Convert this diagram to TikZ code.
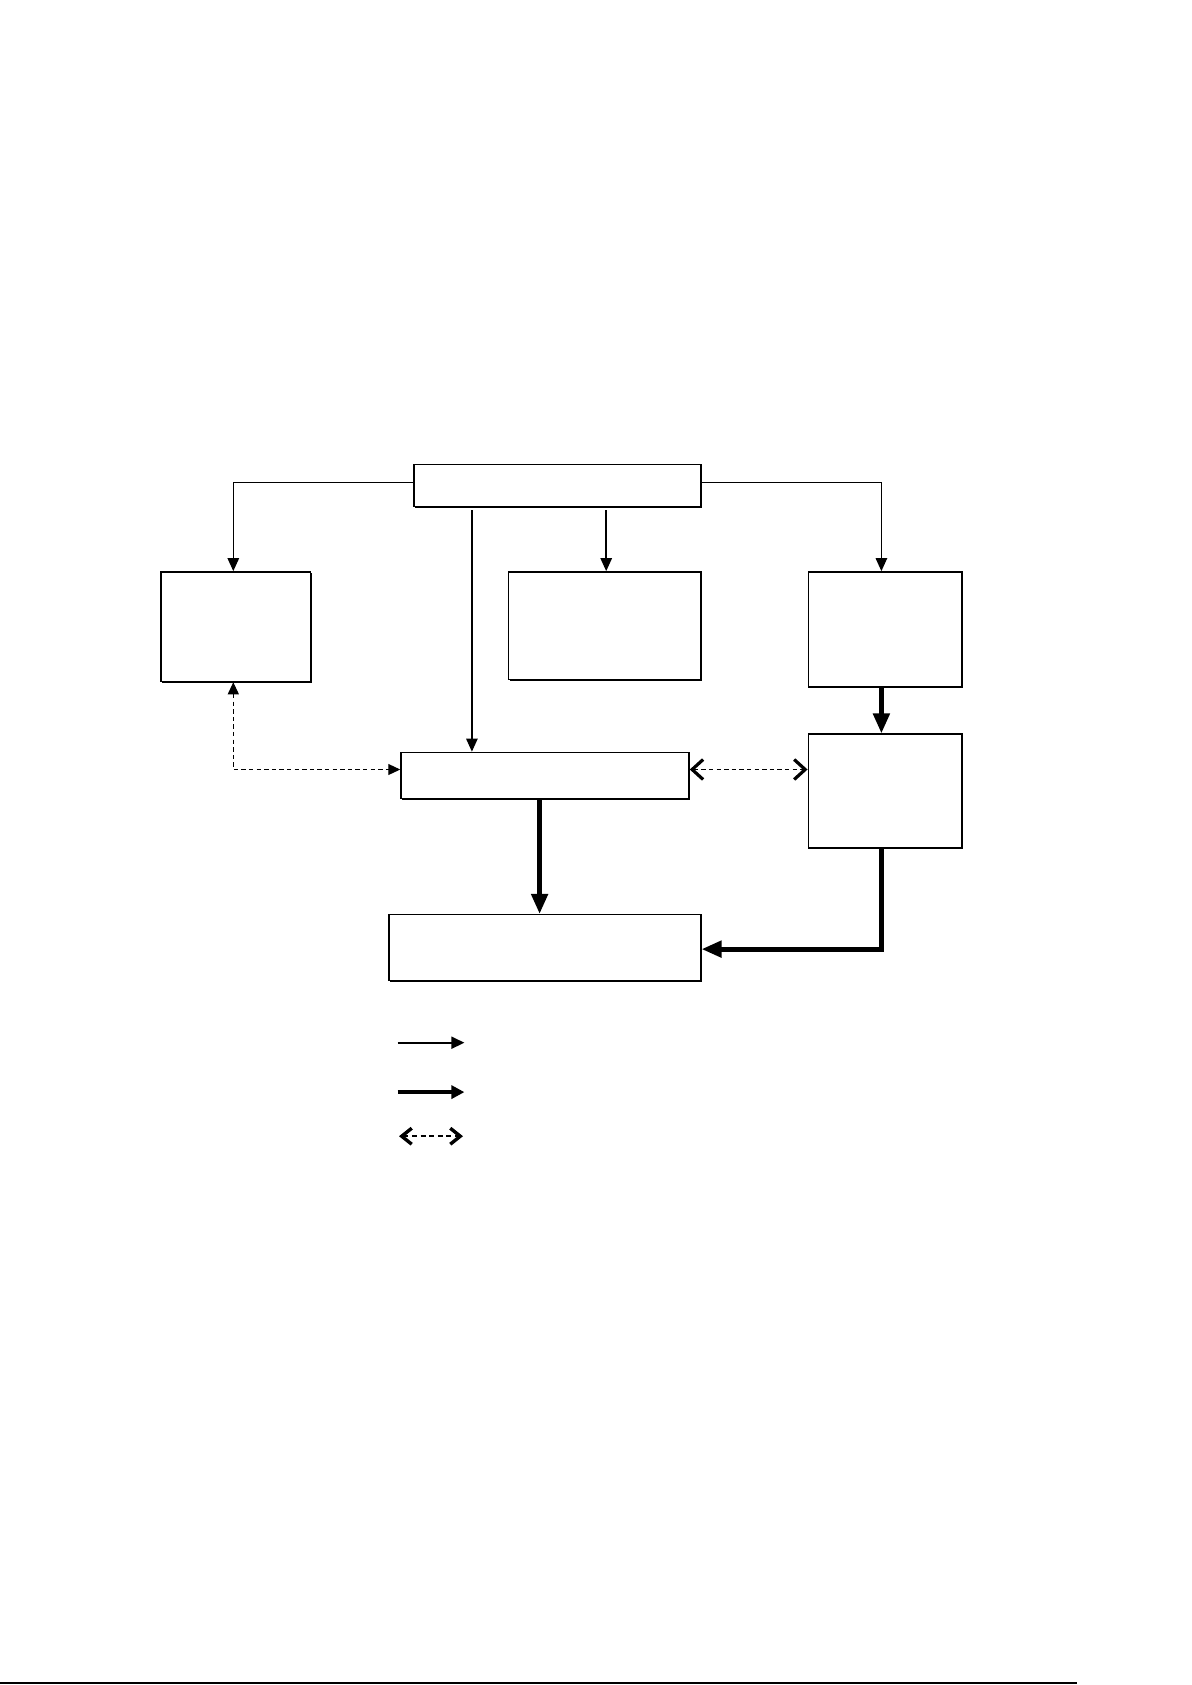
\documentclass[tikz,border=0pt]{standalone}
\usetikzlibrary{arrows.meta,shadows,calc}
\begin{document}
\begin{tikzpicture}[x=0.5pt,y=-0.5pt,
  box/.style={draw, line width=0.75pt, fill=white, inner sep=0pt,
    drop shadow={shadow xshift=0.6pt, shadow yshift=-0.6pt, fill=black, opacity=1}},
  thin/.style={line width=0.75pt, -{Triangle[length=6.5pt,width=5.7pt]}},
  thick/.style={line width=2.4pt, -{Triangle[length=10pt,width=8pt]}},
  dashthin/.style={line width=0.55pt, dash pattern=on 2.2pt off 1.6pt},
  barbs/.style={{Straight Barb[length=5.5pt,width=10pt,line width=1.6pt]}-{Straight Barb[length=5.5pt,width=10pt,line width=1.6pt]}},
  tri/.style={{Triangle[length=6pt,width=5.5pt]}-{Triangle[length=6pt,width=5.5pt]}}
]
\useasboundingbox (0,0) rectangle (1192,1685);
\fill[white] (0,0) rectangle (1192,1685);

\node[box, minimum width=143.5pt, minimum height=21pt] (top) at (557.3,485.4) {};
\node[box, minimum width=74.7pt, minimum height=54.8pt] (lb) at (235.9,626.7) {};
\node[box, minimum width=96.2pt, minimum height=53.7pt] (mb) at (604.6,625.6) {};
\node[box, minimum width=76.9pt, minimum height=57.5pt] (rb1) at (885.2,629.4) {};
\node[box, minimum width=76.9pt, minimum height=57pt] (rb2) at (885.2,791.2) {};
\node[box, minimum width=144pt, minimum height=23.1pt] (cb) at (545,775.5) {};
\node[box, minimum width=155.8pt, minimum height=32.8pt] (bb) at (545,947.5) {};

% thin arrows from top box
\draw[thin] ([yshift=1.5pt]top.west) -| (233.3,0 |- lb.north);
\draw[thin] ([yshift=1.5pt]top.east) -| (881.4,0 |- rb1.north);
\draw[thin, shorten <=1.6pt] (471.9,0 |- top.south) -- (471.9,0 |- cb.north);
\draw[thin, shorten <=1.6pt] (606.2,0 |- top.south) -- (606.2,0 |- mb.north);

% thick arrows
\draw[thick] (881.4,0 |- rb1.south) -- (881.4,0 |- rb2.north);
\draw[thick] (539.6,0 |- cb.south) -- (539.6,0 |- bb.north);
\draw[thick, -] (881.4,0 |- rb2.south) -- (881.4,949.1) coordinate (corner);
\draw[thick, shorten <=-1.2pt] (corner) -- (bb.east |- corner);

% dashed
\draw[dashthin, tri] (233.3,0 |- lb.south) |- ([yshift=3pt]cb.west);
\draw[dashthin, barbs] ([yshift=3pt]cb.east) -- ([yshift=3pt]cb.east -| rb2.west);

% legend
\coordinate (l1a) at (397.7,1042.7); \coordinate (l1b) at (464.4,1042.7);
\coordinate (l2a) at (397.7,1092.1); \coordinate (l2b) at (464.4,1092.1);
\coordinate (l3a) at (399,1136.2); \coordinate (l3b) at (463,1136.2);
\draw[line width=0.9pt, -{Triangle[length=6.5pt,width=6pt]}] (l1a) -- (l1b);
\draw[line width=2pt, -{Triangle[length=6.5pt,width=6.5pt]}] (l2a) -- (l2b);
\draw[line width=0.9pt, dash pattern=on 2.5pt off 1.8pt,
  {Straight Barb[length=5pt,width=8pt,line width=1.7pt]}-{Straight Barb[length=5pt,width=8pt,line width=1.7pt]}] (l3a) -- (l3b);

% footer rule
\draw[line width=1pt] (0,1683) -- (1077,1683);
\end{tikzpicture}
\end{document}
